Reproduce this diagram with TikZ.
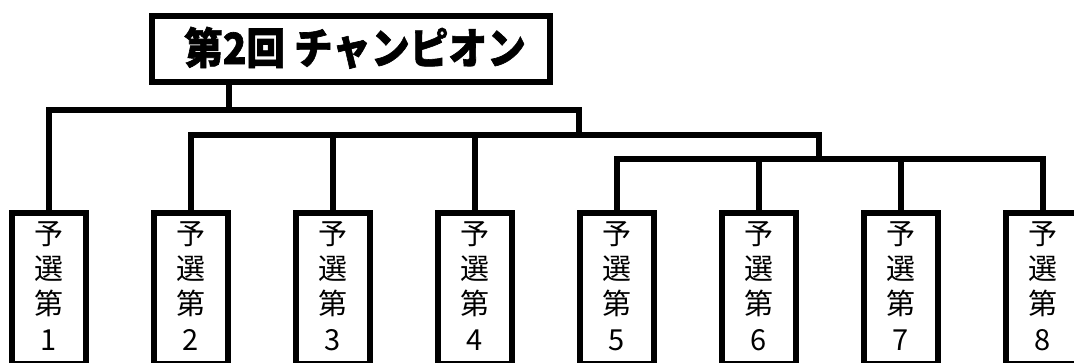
\documentclass[tikz,border=0pt]{standalone}
\usepackage{fontspec}
\newfontfamily\jp{Noto Sans CJK JP}[BoldFeatures={FakeBold=1.5}]
\begin{document}
\begin{tikzpicture}[x=1pt,y=-1pt,
  wire/.style={line width=5.5pt,line join=miter,line cap=rect},
  titlebox/.style={draw,line width=6pt,minimum width=398pt,minimum height=66pt,inner sep=0pt},
  qualbox/.style={draw,line width=6pt,minimum width=74pt,minimum height=151pt,inner sep=0pt},
  qualtext/.style={inner sep=0pt,anchor=base,font=\jp\fontsize{29}{29}\selectfont}]
\useasboundingbox (0,0) rectangle (1074,362);
\node[titlebox] (title) at (351,49) {};
\node[inner sep=0pt,anchor=base,font=\jp\bfseries\fontsize{43}{43}\selectfont] (ttext) at (355,64) {\scalebox{0.9}[1]{第2回 チャンピオン}};
\foreach \i in {1,...,8}{
  \pgfmathsetmacro{\cx}{49+142*(\i-1)}
  \node[qualbox] (b\i) at (\cx,288.5) {};
  \node[qualtext] (la\i) at (\cx,244) {予};
  \node[qualtext] (lb\i) at (\cx,279) {選};
  \node[qualtext] (lc\i) at (\cx,314) {第};
  \node[qualtext] (ld\i) at (\cx,350) {\i};
}
\coordinate (t) at (229,110);
\coordinate (u) at (579,135);
\coordinate (v) at (819,159);
\draw[wire] (title.south -| t) -- (t);
\draw[wire] (b1.north) |- (t) -| (u);
\draw[wire] (b2.north) |- (u) -| (v);
\draw[wire] (b3.north) -- (b3.north |- u);
\draw[wire] (b4.north) -- (b4.north |- u);
\draw[wire] (b5.north) |- (v) -| (b8.north);
\draw[wire] (b6.north) -- (b6.north |- v);
\draw[wire] (b7.north) -- (b7.north |- v);
\end{tikzpicture}
\end{document}
